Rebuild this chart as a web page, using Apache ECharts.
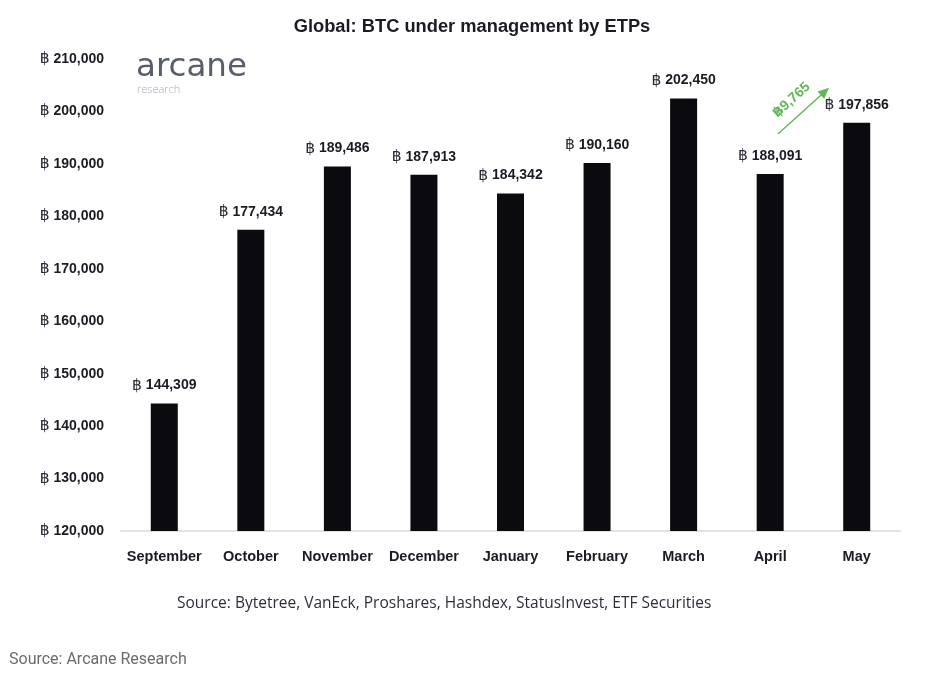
<!DOCTYPE html>
<html>
<head>
<meta charset="utf-8">
<style>
html,body{margin:0;padding:0;background:#fff;}
#chart{width:940px;height:677px;}
</style>
<script src="https://cdn.jsdelivr.net/npm/echarts@6/dist/echarts.min.js"></script>
</head>
<body>
<div id="chart"></div>
<script>
const categories = ['September','October','November','December','January','February','March','April','May'];
const btcValues = [144309, 177434, 189486, 187913, 184342, 190160, 202450, 188091, 197856];
const yTicks = {min: 120000, max: 210000, interval: 10000};
const changeLabel = '฿9,765';
const titleText = 'Global: BTC under management by ETPs';
const sourceText = 'Source: Bytetree, VanEck, Proshares, Hashdex, StatusInvest, ETF Securities';
const footerText = 'Source: Arcane Research';

const boldFont = '"Liberation Sans", Arial, "DejaVu Sans", sans-serif';
const fmt = v => '{s|฿} ' + v.toLocaleString('en-US');
const richSym = {s: {fontFamily: '"DejaVu Sans", sans-serif', fontWeight: 'normal', fontSize: 15.5, color: '#2a2a36'}};

const chart = echarts.init(document.getElementById('chart'));
chart.setOption({
  animation: false,
  backgroundColor: '#fff',
  title: {
    text: titleText, left: 467, top: 13, textAlign: 'center',
    textStyle: {fontFamily: boldFont, fontWeight: 'bold', fontSize: 18.3, color: '#1b1b24'}
  },
  grid: {left: 121, right: 40, top: 59, bottom: 146, containLabel: false},
  xAxis: {
    type: 'category', data: categories,
    axisLine: {show: true, lineStyle: {color: '#e3e3e3', width: 2}},
    axisTick: {show: false},
    axisLabel: {interval: 0, margin: 18, fontFamily: boldFont, fontWeight: 'bold', fontSize: 14.5, color: '#1b1b24'}
  },
  yAxis: {
    type: 'value', min: yTicks.min, max: yTicks.max, interval: yTicks.interval,
    splitLine: {show: false}, axisLine: {show: false}, axisTick: {show: false},
    axisLabel: {margin: 17, formatter: fmt, rich: richSym, fontFamily: boldFont, fontWeight: 'bold', fontSize: 14, color: '#1b1b24'}
  },
  series: [{
    type: 'bar', data: btcValues, barWidth: 27,
    itemStyle: {color: '#0b0b0f'},
    label: {show: true, position: 'top', distance: 10, formatter: p => fmt(p.value), rich: richSym,
      fontFamily: boldFont, fontWeight: 'bold', fontSize: 14, color: '#1b1b24'}
  }]
});

// annotation arrow between April and May, positioned through the chart scales
const pA = chart.convertToPixel({seriesIndex: 0}, [7, 195700]);
const pB = chart.convertToPixel({seriesIndex: 0}, [8, 204500]);
const x1 = pA[0] + 0.09 * (pB[0] - pA[0]);
const x2 = pA[0] + 0.68 * (pB[0] - pA[0]);
const y1 = pA[1], y2 = pB[1];
const ang = Math.atan2(y1 - y2, x2 - x1);
const hl = 11, hw = 5;
const bx = x2 - hl * Math.cos(ang), by = y2 + hl * Math.sin(ang);
const nx = Math.sin(ang) * hw, ny = Math.cos(ang) * hw;
const green = '#62b857';

chart.setOption({
  graphic: [
    {type: 'line', shape: {x1: x1, y1: y1, x2: bx, y2: by}, style: {stroke: green, lineWidth: 1.5}},
    {type: 'polygon', shape: {points: [[x2, y2], [bx - nx, by - ny], [bx + nx, by + ny]]}, style: {fill: green}},
    {type: 'text', x: (x1 + x2) / 2 - 12, y: (y1 + y2) / 2 - 11, rotation: ang,
      style: {text: changeLabel, fill: green, font: 'bold 14px ' + boldFont, align: 'center', verticalAlign: 'middle'}},
    {type: 'text', left: 136, top: 51,
      style: {text: 'arcane', fill: '#585d6d', font: '32.5px "DejaVu Sans ExtraLight", "DejaVu Sans", sans-serif'}},
    {type: 'text', left: 137, top: 84,
      style: {text: 'research', fill: '#a3a8b6', font: '300 11px "Open Sans", "DejaVu Sans", sans-serif'}},
    {type: 'text', left: 177, top: 596,
      style: {text: sourceText, fill: '#2e2e3a', font: '15.5px "Open Sans", Lato, sans-serif'}},
    {type: 'text', left: 9, top: 652,
      style: {text: footerText, fill: '#6b6b6b', font: '16px Roboto, sans-serif'}}
  ]
});
</script>
</body>
</html>
